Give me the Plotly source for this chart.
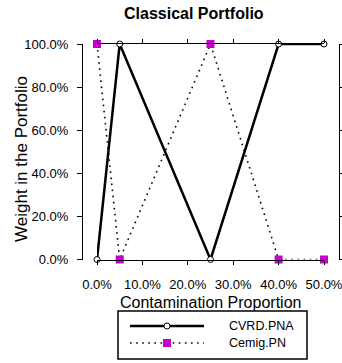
import plotly.graph_objects as go

# ---- data ----
contamination = [0.0, 0.05, 0.25, 0.40, 0.50]
cvrd_pna = [0.0, 1.0, 0.0, 1.0, 1.0]
cemig_pn = [1.0, 0.0, 1.0, 0.0, 0.0]
series_names = ["CVRD.PNA", "Cemig.PN"]
x_ticks = [0.0, 0.1, 0.2, 0.3, 0.4, 0.5]
y_ticks = [0.0, 0.2, 0.4, 0.6, 0.8, 1.0]

W, H = 342, 363
FONT = "Liberation Sans, Arial, Helvetica, sans-serif"
MAGENTA = "#c800c8"

def px(x):
    return x / W

def py(y):
    return 1 - y / H

fig = go.Figure()

fig.add_trace(go.Scatter(
    x=contamination, y=cvrd_pna, name=series_names[0], mode="lines+markers",
    line=dict(color="black", width=2.5),
    marker=dict(symbol="circle", size=6, color="white", line=dict(color="black", width=1)),
    cliponaxis=False, showlegend=False))

fig.add_trace(go.Scatter(
    x=contamination, y=cemig_pn, name=series_names[1], mode="lines+markers",
    line=dict(color="black", width=1.6, dash="1.6px,4.5px"),
    marker=dict(symbol="square", size=8, color=MAGENTA, line=dict(width=0)),
    cliponaxis=False, showlegend=False))

# invisible trace to anchor right axis
fig.add_trace(go.Scatter(x=[None], y=[None], yaxis="y2", showlegend=False, hoverinfo="skip"))

axis_font = dict(family=FONT, size=13, color="black")

fig.update_layout(
    width=W, height=H,
    margin=dict(l=0, r=0, t=0, b=0),
    paper_bgcolor="white", plot_bgcolor="white",
    showlegend=False,
    xaxis=dict(
        domain=[px(97), px(324)], range=[0, 0.5],
        tickvals=x_ticks, tickformat=".1%",
        ticks="outside", ticklen=4, tickwidth=1, tickcolor="black",
        showline=True, linecolor="black", linewidth=1, mirror="ticks",
        showgrid=False, zeroline=False, tickfont=axis_font,
        automargin=False, ticklabelstandoff=9, ticklabeloverflow="allow",
    ),
    yaxis=dict(
        domain=[py(259.5), py(44)], range=[0, 1],
        anchor="free", position=px(82),
        tickvals=y_ticks, tickformat=".1%",
        ticks="outside", ticklen=5, tickwidth=1, tickcolor="black",
        showline=True, linecolor="black", linewidth=1,
        showgrid=False, zeroline=False, tickfont=axis_font,
        automargin=False, ticklabelstandoff=6, ticklabeloverflow="allow",
    ),
    yaxis2=dict(
        overlaying="y", side="right", anchor="free", position=px(339),
        range=[0, 1], tickvals=y_ticks, showticklabels=False,
        ticks="outside", ticklen=5, tickwidth=1, tickcolor="black",
        showline=True, linecolor="black", linewidth=1,
        showgrid=False, zeroline=False, automargin=False,
    ),
)

annotations = [
    dict(text="<b>Classical Portfolio</b>", x=px(194), y=py(14), xref="paper", yref="paper",
         showarrow=False, xanchor="center", yanchor="middle",
         font=dict(family=FONT, size=16, color="black")),
    dict(text="Weight in the Portfolio", x=px(21), y=py(159), xref="paper", yref="paper",
         showarrow=False, xanchor="center", yanchor="middle", textangle=-90,
         font=dict(family=FONT, size=17, color="black")),
    dict(text="Contamination Proportion", x=px(210), y=py(302), xref="paper", yref="paper",
         showarrow=False, xanchor="center", yanchor="middle",
         font=dict(family=FONT, size=16, color="black")),
    dict(text=series_names[0], x=px(227), y=py(326), xref="paper", yref="paper",
         showarrow=False, xanchor="left", yanchor="middle",
         font=dict(family=FONT, size=12.5, color="black")),
    dict(text=series_names[1], x=px(227), y=py(343), xref="paper", yref="paper",
         showarrow=False, xanchor="left", yanchor="middle",
         font=dict(family=FONT, size=12.5, color="black")),
]
fig.update_layout(annotations=annotations)

shapes = [
    # legend box
    dict(type="rect", xref="paper", yref="paper", x0=px(118), x1=px(307), y0=py(359), y1=py(311),
         line=dict(color="black", width=1.5), fillcolor="white", layer="above"),
    # legend line samples
    dict(type="line", xref="paper", yref="paper", x0=px(130), x1=px(204), y0=py(326), y1=py(326),
         line=dict(color="black", width=2.5), layer="above"),
    dict(type="line", xref="paper", yref="paper", x0=px(130), x1=px(204), y0=py(343), y1=py(343),
         line=dict(color="black", width=1.6, dash="1.6px,4.5px"), layer="above"),
    # legend markers
    dict(type="circle", xref="paper", yref="paper", xsizemode="pixel", ysizemode="pixel",
         xanchor=px(167), yanchor=py(326), x0=-3, x1=3, y0=-3, y1=3,
         line=dict(color="black", width=1), fillcolor="white", layer="above"),
    dict(type="rect", xref="paper", yref="paper", xsizemode="pixel", ysizemode="pixel",
         xanchor=px(167), yanchor=py(343), x0=-4, x1=4, y0=-4, y1=4,
         line=dict(width=0), fillcolor=MAGENTA, layer="above"),
]
fig.update_layout(shapes=shapes)

fig.write_html("out.html")
